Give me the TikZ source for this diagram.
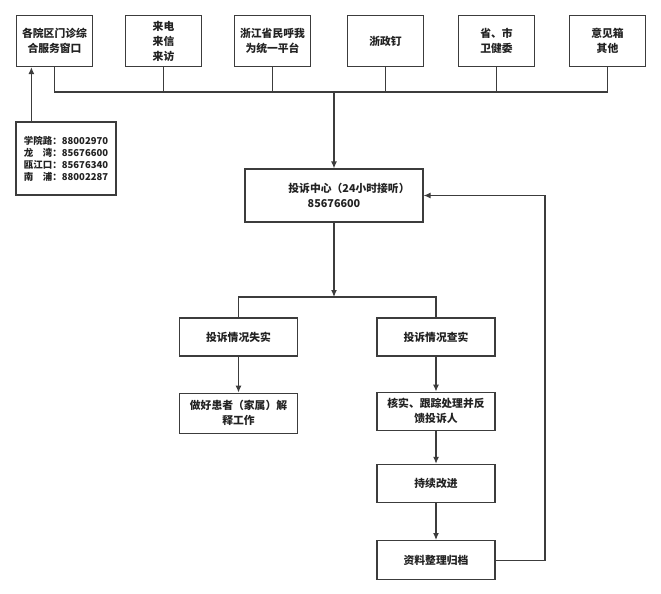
\documentclass[tikz,border=0pt]{standalone}
\usepackage{fontspec}
\setmainfont{Noto Sans CJK SC}
\usetikzlibrary{arrows.meta,positioning}
\definecolor{ln}{HTML}{3C3C3C}
\definecolor{tx}{HTML}{222222}

\begin{document}
\begin{tikzpicture}[
  x=1pt, y=-1pt,
  line width=1.2pt, draw=ln,
  src/.style={draw=ln, rectangle, minimum width=76pt, minimum height=51pt, align=center, text=tx, font=\fontsize{10.8}{15}\selectfont\bfseries, inner sep=1pt},
  act/.style={draw=ln, rectangle, minimum width=118pt, minimum height=38pt, align=center, text=tx, font=\fontsize{10.8}{15}\selectfont\bfseries, inner sep=1pt},
  tel/.style={draw=ln, rectangle, minimum width=100pt, minimum height=73pt, align=left, text=tx, font=\fontsize{9.5}{12}\selectfont\bfseries, inner sep=1pt},
  arr/.style={draw=ln, -{Latex[length=7pt,width=6pt]}}
]
\useasboundingbox (0,0) rectangle (661,594);

% channels
\node[src] (b1) at (54.5,41) {各院区门诊综\\合服务窗口};
\node[src] (b2) at (163.5,41) {来电\\来信\\来访};
\node[src] (b3) at (272.5,41) {浙江省民呼我\\为统一平台};
\node[src] (b4) at (385.5,41) {浙政钉};
\node[src] (b5) at (496.5,41) {省、市\\卫健委};
\node[src] (b6) at (607.5,41) {意见箱\\其他};
\node[tel] (tel) at (66,158.5) {学院路：88002970\\龙\hspace{1em}湾：85676600\\瓯江口：85676340\\南\hspace{1em}浦：88002287};

% center
\node[act, minimum width=178pt, minimum height=53pt] (ctr) at (334,195.5) {\hspace*{30pt}投诉中心（24小时接听）\\85676600};
\node[act] (l1) at (238.5,337) {投诉情况失实};
\node[act] (r1) at (436,337) {投诉情况查实};
\node[act, below=36pt of l1, minimum height=40pt] (l2) {做好患者（家属）解\\释工作};
\node[act, below=35pt of r1] (r2) {核实、跟踪处理并反\\馈投诉人};
\node[act, below=33pt of r2] (r3) {持续改进};
\node[act, below=37pt of r3, minimum height=39pt] (r4) {资料整理归档};

\coordinate (bus) at (0,92);
\coordinate (split) at (0,297);
\coordinate (fb) at (545,0);

\draw (b1.south) |- (b6.south |- bus) -- (b6.south);
\foreach \b in {b2,b3,b4,b5} \draw (\b.south) -- (\b.south |- bus);
\draw[arr] (ctr.north |- bus) -- (ctr.north);
\draw[arr] ([xshift=16pt]tel.north west) -- ([xshift=16pt]tel.north west |- b1.south);

\draw[arr] (ctr.south) -- (ctr.south |- split);
\draw (l1.north) |- (r1.north |- split) -- (r1.north);
\draw[arr] (l1) -- (l2);
\draw[arr] (r1) -- (r2);
\draw[arr] (r2) -- (r3);
\draw[arr] (r3) -- (r4);
\draw[arr] (r4.east) -- (r4.east -| fb) |- (ctr.east);
\end{tikzpicture}
\end{document}
